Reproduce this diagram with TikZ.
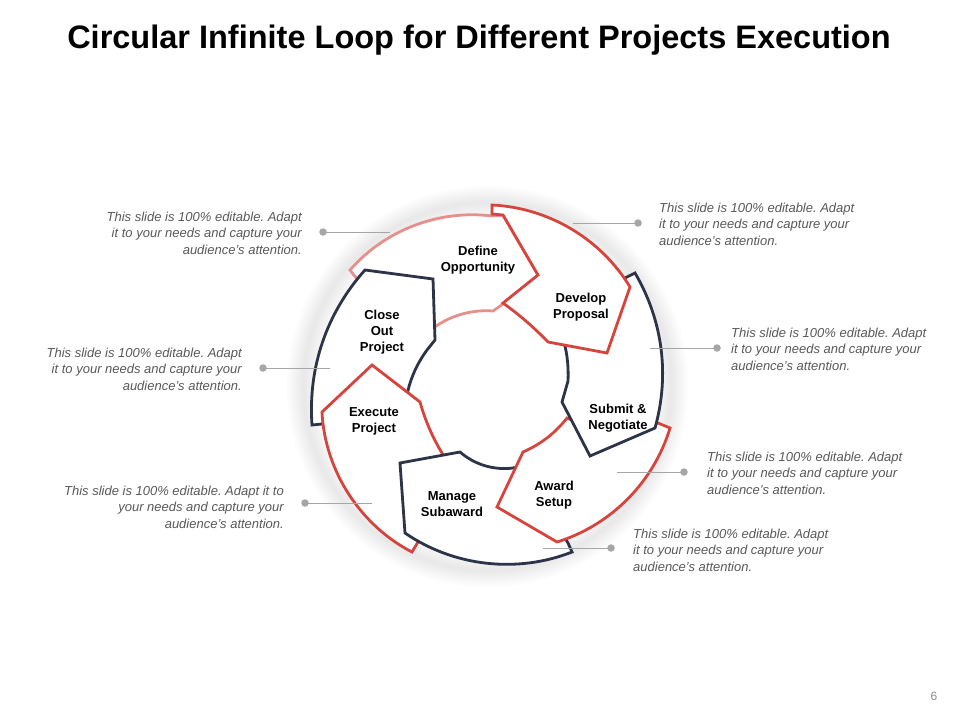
\documentclass[tikz,border=0pt]{standalone}
\usepackage{fontspec}
\setmainfont{Liberation Sans}
\frenchspacing
\definecolor{cRed}{HTML}{D6453D}
\definecolor{cNavy}{HTML}{2D3349}
\definecolor{cPink}{HTML}{E6908B}
\definecolor{cText}{HTML}{595959}
\definecolor{cLead}{HTML}{A6A6A6}
\definecolor{cNum}{HTML}{8C8C8C}
\pgfdeclareradialshading{ringglow}{\pgfpointorigin}{color(0bp)=(white); color(19.5bp)=(white); color(21.9bp)=(black!9); color(24bp)=(white); color(50bp)=(white)}
\tikzset{
  seg/.style={line width=2.8pt, fill=white, line join=miter},
  redseg/.style={seg, draw=cRed},
  navyseg/.style={seg, draw=cNavy},
  pinkseg/.style={seg, draw=cPink},
  arcL/.style={bend left=#1, looseness=0.9},
  arcR/.style={bend right=#1, looseness=0.9},
  lbl/.style={font=\fontsize{13}{16}\selectfont\bfseries, align=center, text=black, inner sep=0pt},
  descbase/.style={font=\fontsize{13}{16.5}\selectfont\itshape, text=cText, inner sep=0pt},
  descL/.style={descbase, align=left, anchor=west},
  descR/.style={descbase, align=right, anchor=east},
  leader/.style={draw=cLead, line width=1pt},
  dotn/.style={circle, fill=cLead, minimum size=7.5pt, inner sep=0pt},
}
\begin{document}
\begin{tikzpicture}[x=1pt,y=1pt]
\useasboundingbox (0,0) rectangle (960,-720);
\fill[white] (0,0) rectangle (960,-720);

% title
\node[font=\fontsize{32.5}{39}\selectfont\bfseries, anchor=base] (title) at (479,-48) {Circular Infinite Loop for Different Projects Execution};

% glow behind the ring
\shade[shading=ringglow] (487,-386) circle (210);

% segments (bottom to top)
\draw[pinkseg] (350,-270) to[arcL=28] (492,-216) -- (503,-215) -- (538,-275) -- (503,-304) -- (493,-311) to[arcR=26] (420,-340) -- (357,-279) -- cycle;
\draw[navyseg] (322,-424) -- (312,-425) to[arcL=23] (365,-270) -- (433,-279) -- (435,-340) -- (427,-350) to[arcR=16] (405,-410) -- (350,-400) -- cycle;
\draw[redseg] (418,-542) -- (412,-552) to[arcL=30] (322,-412) -- (372,-365) -- (420,-402) to[arcR=10] (452,-468) -- (430,-500) -- cycle;
\draw[navyseg] (572,-552) to[arcL=28] (405,-533) -- (400,-463) -- (460,-452) to[arcR=24] (513,-468) -- (535,-462) -- (548,-510) -- (568,-543) -- cycle;
\draw[redseg] (670,-428) to[arcL=28] (557,-542) -- (497,-507) -- (523,-452) to[arcR=14] (567,-418) -- (612,-436) -- (658,-423) -- cycle;
\draw[navyseg] (635,-273) to[arcL=23] (655,-428) -- (590,-456) -- (562,-402) -- (568,-381) to[arcR=10] (562,-335) -- (615,-300) -- (625,-278) -- cycle;
\draw[redseg] (492,-205) to[arcL=28] (630,-287) -- (607,-353) -- (548,-342) to[arcR=5] (503,-303) -- (538,-275) -- (503,-215) -- (492,-214) -- cycle;

% labels
\node[lbl] (define) at (478,-260) {Define\\Opportunity};
\node[lbl] (develop) at (581,-307) {Develop\\Proposal};
\node[lbl] (submit) at (618,-418) {Submit \&\\Negotiate};
\node[lbl] (award) at (554,-495) {Award\\Setup};
\node[lbl] (manage) at (452,-504) {Manage\\Subaward};
\node[lbl] (execute) at (374,-421) {Execute\\Project};
\node[lbl] (close) at (382,-332) {Close\\Out\\Project};

% callouts
\node[dotn] (d1) at (323,-232) {};
\coordinate (e1) at (390,-232);
\draw[leader] (e1) -- (d1.center);
\node[descR] (t1) at (302,-233) {This slide is 100\% editable. Adapt\\it to your needs and capture your\\audience's attention.};

\node[dotn] (d2) at (263,-368) {};
\coordinate (e2) at (330,-368);
\draw[leader] (e2) -- (d2.center);
\node[descR] (t2) at (242,-369) {This slide is 100\% editable. Adapt\\it to your needs and capture your\\audience's attention.};

\node[dotn] (d3) at (305,-503) {};
\coordinate (e3) at (372,-503);
\draw[leader] (e3) -- (d3.center);
\node[descR] (t3) at (284,-507) {This slide is 100\% editable. Adapt it to\\your needs and capture your\\audience's attention.};

\node[dotn] (d4) at (638,-223) {};
\coordinate (e4) at (573,-223);
\draw[leader] (e4) -- (d4.center);
\node[descL] (t4) at (659,-224) {This slide is 100\% editable. Adapt\\it to your needs and capture your\\audience's attention.};

\node[dotn] (d5) at (717,-348) {};
\coordinate (e5) at (650,-348);
\draw[leader] (e5) -- (d5.center);
\node[descL] (t5) at (731,-349) {This slide is 100\% editable. Adapt\\it to your needs and capture your\\audience's attention.};

\node[dotn] (d6) at (684,-472) {};
\coordinate (e6) at (617,-472);
\draw[leader] (e6) -- (d6.center);
\node[descL] (t6) at (707,-473) {This slide is 100\% editable. Adapt\\it to your needs and capture your\\audience's attention.};

\node[dotn] (d7) at (611,-548) {};
\coordinate (e7) at (543,-548);
\draw[leader] (e7) -- (d7.center);
\node[descL] (t7) at (633,-550) {This slide is 100\% editable. Adapt\\it to your needs and capture your\\audience's attention.};

% page number
\node[font=\fontsize{12}{14}\selectfont, text=cNum] (pnum) at (934,-696) {6};
\end{tikzpicture}
\end{document}
